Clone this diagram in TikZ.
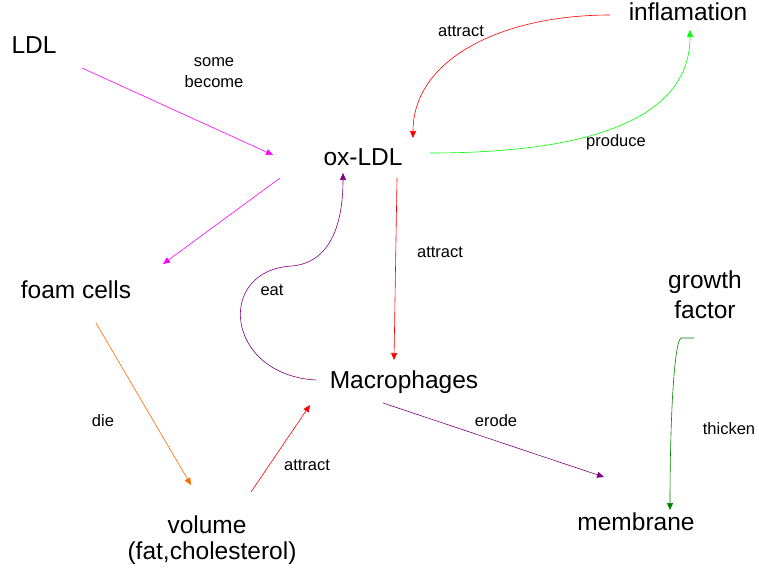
\documentclass[tikz,border=0pt]{standalone}
\usepackage{fontspec}
\setmainfont{Liberation Sans}
\usetikzlibrary{arrows.meta}
\definecolor{mag}{HTML}{FF00FF}
\definecolor{rd}{HTML}{FF0000}
\definecolor{gr}{HTML}{00FF00}
\definecolor{pu}{HTML}{800080}
\definecolor{orng}{HTML}{FF6A00}
\definecolor{dgr}{HTML}{008000}
\begin{document}
\begin{tikzpicture}[x=1pt,y=-1pt,
  big/.style={font=\fontsize{24.5}{30}\selectfont, inner sep=0pt, align=center},
  lbl/.style={font=\fontsize{16.5}{21}\selectfont, inner sep=0pt, align=center},
  conn/.style={-{Triangle[length=7pt,width=6pt]}, line width=0.6pt}]
\useasboundingbox (0,0) rectangle (759,571);
% nodes
\node[big] (LDL) at (34,45) {LDL};
\node[big] (ox) at (363,157) {ox-LDL};
\node[big] (infl) at (688,12) {inflamation};
\node[big] (foam) at (76,290) {foam cells};
\node[big] (growth) at (705,295) {growth\\factor};
\node[big] (macro) at (404,382) {Macrophages};
\node[big] (vol) at (207,525) {volume};
\node[big] (fat) at (212,553) {(fat,cholesterol)};
\node[big] (mem) at (636,522) {membrane};
% labels
\node[lbl] (lsome) at (214,73) {some\\become};
\node[lbl] (latt1) at (461,31) {attract};
\node[lbl] (lprod) at (616,142) {produce};
\node[lbl] (latt2) at (440,252) {attract};
\node[lbl] (leat) at (272,290) {eat};
\node[lbl] (ldie) at (103,421) {die};
\node[lbl] (lerode) at (496,421) {erode};
\node[lbl] (lthick) at (729,429) {thicken};
\node[lbl] (latt3) at (307,465) {attract};
% connector ends
\coordinate (ldlE) at (82,68);
\coordinate (oxW) at (273,155);
\coordinate (oxSW) at (280,178);
\coordinate (foamNE) at (163,264);
\coordinate (inflW) at (610,15);
\coordinate (oxNE) at (413,138);
\coordinate (oxE) at (430,153);
\coordinate (inflS) at (690,30);
\coordinate (oxS) at (397,178);
\coordinate (macroN) at (394,360);
\coordinate (macroW) at (316,380);
\coordinate (mid) at (292,266);
\coordinate (oxSS) at (343,173);
\coordinate (foamS) at (96,323);
\coordinate (volN) at (191,485);
\coordinate (volNE) at (251,492);
\coordinate (macroSW) at (310,405);
\coordinate (macroS) at (383,403);
\coordinate (memN) at (604,477);
\coordinate (growthS) at (694,338);
\coordinate (gcorner) at (681,338);
\coordinate (memNE) at (670,510);
% connectors
\draw[conn, mag] (ldlE) -- (oxW);
\draw[conn, mag] (oxSW) -- (foamNE);
\draw[conn, rd] (inflW) .. controls (500,15) and (413,60) .. (oxNE);
\draw[conn, gr] (oxE) .. controls (610,153) and (690,110) .. (inflS);
\draw[conn, rd] (oxS) -- (macroN);
\draw[conn, pu] (macroW) .. controls (225,375) and (215,270) .. (mid) .. controls (335,262) and (343,215) .. (oxSS);
\draw[conn, orng] (foamS) -- (volN);
\draw[conn, rd] (volNE) -- (macroSW);
\draw[conn, pu] (macroS) -- (memN);
\draw[conn, dgr] (growthS) -- (gcorner) .. controls (674,342) and (670,420) .. (memNE);
\end{tikzpicture}
\end{document}
